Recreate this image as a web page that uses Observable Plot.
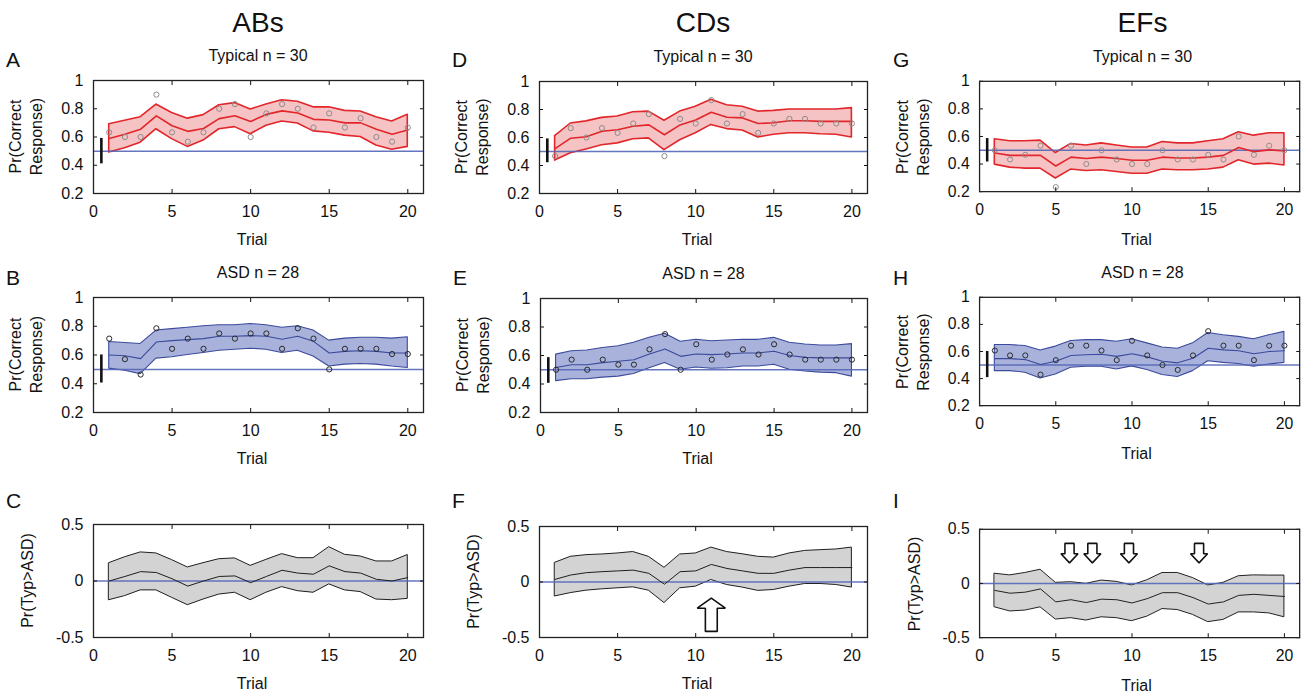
<!DOCTYPE html>
<html><head><meta charset="utf-8">
<script src="https://cdn.jsdelivr.net/npm/d3@7"></script>
<script src="https://cdn.jsdelivr.net/npm/@observablehq/plot@0.6"></script>
<style>
body{margin:0;background:#fff;}
#fig{position:relative;width:1311px;height:694px;font-family:"Liberation Sans",Arial,sans-serif;color:#111;overflow:hidden;background:#fff}
.pw{position:absolute}
#ov{position:absolute;left:0;top:0;pointer-events:none}
</style></head><body><div id="fig"></div>
<script>
// ---------- data ----------
const trials = [1,2,3,4,5,6,7,8,9,10,11,12,13,14,15,16,17,18,19,20];
const xTicks = [0,5,10,15,20];
const prTicks = [0.2,0.4,0.6,0.8,1];
const diffTicks = [-0.5,0,0.5];
const columnTitles = ["ABs","CDs","EFs"];
const panelLetters = ["A","D","G","B","E","H","C","F","I"];
const rowSubtitles = ["Typical n = 30","ASD n = 28",null];

const abTypMean = [0.59,0.62,0.655,0.75,0.68,0.64,0.66,0.73,0.75,0.71,0.76,0.785,0.77,0.725,0.72,0.70,0.70,0.655,0.62,0.65];
const abTypHi   = [0.69,0.715,0.74,0.83,0.77,0.73,0.755,0.825,0.84,0.795,0.83,0.86,0.85,0.81,0.81,0.785,0.78,0.74,0.71,0.757];
const abTypLo   = [0.49,0.52,0.56,0.655,0.585,0.53,0.575,0.655,0.67,0.62,0.68,0.71,0.695,0.64,0.63,0.61,0.60,0.54,0.51,0.53];
const abTypObs  = [0.633,0.6,0.6,0.9,0.633,0.567,0.633,0.8,0.833,0.6,0.767,0.833,0.8,0.667,0.767,0.667,0.733,0.6,0.567,0.667];

const cdTypMean = [0.52,0.595,0.605,0.645,0.655,0.68,0.69,0.62,0.69,0.725,0.78,0.745,0.74,0.70,0.705,0.72,0.72,0.715,0.715,0.715];
const cdTypHi   = [0.61,0.70,0.715,0.74,0.75,0.78,0.785,0.72,0.785,0.82,0.87,0.83,0.82,0.785,0.79,0.80,0.80,0.80,0.80,0.81];
const cdTypLo   = [0.435,0.487,0.515,0.545,0.558,0.587,0.594,0.51,0.58,0.63,0.69,0.66,0.65,0.60,0.62,0.63,0.63,0.623,0.62,0.60];
const cdTypObs  = [0.467,0.667,0.6,0.667,0.633,0.7,0.767,0.467,0.733,0.7,0.867,0.7,0.767,0.633,0.7,0.733,0.733,0.7,0.7,0.7];

const efTypMean = [0.48,0.463,0.463,0.463,0.386,0.45,0.44,0.45,0.44,0.427,0.427,0.45,0.444,0.444,0.45,0.463,0.52,0.49,0.503,0.494];
const efTypHi   = [0.58,0.565,0.565,0.57,0.48,0.546,0.535,0.55,0.535,0.52,0.52,0.56,0.55,0.55,0.565,0.58,0.63,0.606,0.623,0.623];
const efTypLo   = [0.396,0.374,0.367,0.367,0.295,0.36,0.35,0.355,0.343,0.33,0.33,0.36,0.355,0.355,0.36,0.374,0.427,0.396,0.403,0.39];
const efTypObs  = [0.5,0.433,0.467,0.533,0.233,0.533,0.4,0.5,0.433,0.4,0.4,0.5,0.433,0.433,0.467,0.433,0.6,0.467,0.533,0.5];

const abAsdMean = [0.60,0.595,0.575,0.69,0.70,0.707,0.714,0.73,0.73,0.735,0.73,0.71,0.73,0.695,0.614,0.625,0.63,0.625,0.614,0.614];
const abAsdHi   = [0.69,0.684,0.677,0.77,0.78,0.79,0.80,0.807,0.807,0.816,0.807,0.79,0.80,0.77,0.70,0.714,0.72,0.72,0.714,0.723];
const abAsdLo   = [0.505,0.49,0.467,0.575,0.584,0.60,0.614,0.63,0.637,0.644,0.637,0.614,0.63,0.59,0.52,0.533,0.537,0.533,0.52,0.51];
const abAsdObs  = [0.714,0.571,0.464,0.786,0.643,0.714,0.643,0.75,0.714,0.75,0.75,0.643,0.786,0.714,0.5,0.643,0.643,0.643,0.607,0.607];

const cdAsdMean = [0.516,0.535,0.535,0.55,0.56,0.57,0.61,0.646,0.594,0.61,0.606,0.61,0.618,0.618,0.63,0.60,0.587,0.583,0.583,0.583];
const cdAsdHi   = [0.606,0.63,0.635,0.653,0.665,0.69,0.724,0.753,0.696,0.71,0.70,0.705,0.71,0.71,0.724,0.69,0.677,0.67,0.67,0.68];
const cdAsdLo   = [0.42,0.433,0.433,0.445,0.452,0.47,0.51,0.547,0.50,0.516,0.507,0.51,0.523,0.523,0.535,0.50,0.488,0.48,0.476,0.452];
const cdAsdObs  = [0.5,0.571,0.5,0.571,0.536,0.536,0.643,0.75,0.5,0.679,0.571,0.607,0.643,0.607,0.679,0.607,0.571,0.571,0.571,0.571];

const efAsdMean = [0.547,0.547,0.54,0.504,0.528,0.57,0.576,0.58,0.564,0.583,0.56,0.528,0.516,0.55,0.624,0.612,0.605,0.583,0.60,0.605];
const efAsdHi   = [0.648,0.648,0.64,0.607,0.636,0.677,0.684,0.684,0.672,0.69,0.66,0.63,0.62,0.66,0.737,0.72,0.708,0.69,0.72,0.745];
const efAsdLo   = [0.455,0.455,0.443,0.40,0.43,0.48,0.487,0.487,0.467,0.49,0.463,0.426,0.412,0.455,0.528,0.516,0.508,0.487,0.504,0.516];
const efAsdObs  = [0.607,0.571,0.571,0.429,0.536,0.643,0.643,0.607,0.536,0.679,0.571,0.5,0.464,0.571,0.75,0.643,0.643,0.536,0.643,0.643];

const abDiffMean = [0,0.04,0.083,0.075,0.02,-0.045,0,0.04,0.045,-0.015,0.04,0.095,0.07,0.06,0.134,0.083,0.07,0.015,0,0.03];
const abDiffHi   = [0.158,0.21,0.253,0.244,0.185,0.12,0.158,0.193,0.2,0.134,0.187,0.238,0.202,0.202,0.30,0.232,0.217,0.173,0.173,0.23];
const abDiffLo   = [-0.17,-0.134,-0.083,-0.083,-0.149,-0.214,-0.164,-0.12,-0.104,-0.17,-0.104,-0.054,-0.09,-0.104,-0.03,-0.083,-0.098,-0.164,-0.17,-0.158];

const cdDiffMean = [0.024,0.063,0.084,0.093,0.1,0.107,0.078,-0.02,0.093,0.1,0.158,0.122,0.1,0.078,0.078,0.107,0.13,0.13,0.13,0.13];
const cdDiffHi   = [0.173,0.227,0.242,0.248,0.257,0.27,0.227,0.128,0.248,0.257,0.31,0.27,0.25,0.227,0.22,0.257,0.28,0.287,0.293,0.31];
const cdDiffLo   = [-0.13,-0.1,-0.078,-0.066,-0.057,-0.048,-0.078,-0.19,-0.057,-0.042,0.018,-0.027,-0.05,-0.08,-0.072,-0.042,-0.018,-0.018,-0.027,-0.05];

const efDiffMean = [-0.064,-0.09,-0.08,-0.05,-0.17,-0.15,-0.176,-0.145,-0.15,-0.18,-0.14,-0.085,-0.085,-0.13,-0.19,-0.17,-0.11,-0.10,-0.11,-0.12];
const efDiffHi   = [0.09,0.075,0.097,0.127,0.006,0.012,-0.003,0.027,0.015,-0.018,0.03,0.097,0.097,0.05,-0.018,0.006,0.067,0.075,0.073,0.073];
const efDiffLo   = [-0.22,-0.258,-0.25,-0.22,-0.333,-0.32,-0.342,-0.312,-0.32,-0.348,-0.306,-0.236,-0.245,-0.29,-0.357,-0.336,-0.267,-0.267,-0.276,-0.312];

// prior interval bars drawn at trial 0.5 (A, D, G, B, E, H)
const priorX  = 0.5;
const priorLo = [0.41,0.42,0.415,0.405,0.405,0.407];
const priorHi = [0.59,0.59,0.585,0.60,0.585,0.60];

// significance arrows: trial positions and vertical extents
const cdArrowX = [11];
const cdArrowY = {tail: -0.445, base: -0.236, tip: -0.146, shaft: 0.38, head: 0.9};
const efArrowX = [5.9, 7.4, 9.8, 14.4];
const efArrowY = {tail: 0.37, base: 0.275, tip: 0.19, shaft: 0.3, head: 0.56};

// ---------- layout ----------
const frames = [
  {L:93, T:80, W:330, H:113}, {L:539, T:81, W:328, H:112}, {L:980, T:81, W:325, H:112},
  {L:93, T:297, W:330, H:115}, {L:540, T:298, W:327, H:114}, {L:980, T:297, W:325, H:110},
  {L:93, T:524, W:330, H:113}, {L:539, T:526, W:328, H:111}, {L:980, T:529, W:325, H:110}
];
const letterBaseline = [67, 285, 508];

const typStyle  = {fill:"#f5c3c3", line:"#e2262b", lw:1.6, dot:"#8c8c8c"};
const asdStyle  = {fill:"#a8b2db", line:"#3b4a9c", lw:1.1, dot:"#2a2a2a"};
const diffStyle = {fill:"#d3d3d3", line:"#1e1e1e", lw:1.0};
const refColor = "#5466b8";

const rows = (m, l, h, o) => trials.map((t, i) => ({t, mean: m[i], lo: l[i], hi: h[i], obs: o ? o[i] : null}));

const panels = [
  {data: rows(abTypMean, abTypLo, abTypHi, abTypObs), st: typStyle, kind: "pr", prior: 0},
  {data: rows(cdTypMean, cdTypLo, cdTypHi, cdTypObs), st: typStyle, kind: "pr", prior: 1},
  {data: rows(efTypMean, efTypLo, efTypHi, efTypObs), st: typStyle, kind: "pr", prior: 2},
  {data: rows(abAsdMean, abAsdLo, abAsdHi, abAsdObs), st: asdStyle, kind: "pr", prior: 3},
  {data: rows(cdAsdMean, cdAsdLo, cdAsdHi, cdAsdObs), st: asdStyle, kind: "pr", prior: 4},
  {data: rows(efAsdMean, efAsdLo, efAsdHi, efAsdObs), st: asdStyle, kind: "pr", prior: 5},
  {data: rows(abDiffMean, abDiffLo, abDiffHi), st: diffStyle, kind: "diff"},
  {data: rows(cdDiffMean, cdDiffLo, cdDiffHi), st: diffStyle, kind: "diff", arrows: cdArrowX, ay: cdArrowY},
  {data: rows(efDiffMean, efDiffLo, efDiffHi), st: diffStyle, kind: "diff", arrows: efArrowX, ay: efArrowY}
];

function arrowPolys(xs, a) {
  const pts = [];
  xs.forEach((x, k) => {
    [[x - a.shaft, a.tail], [x + a.shaft, a.tail], [x + a.shaft, a.base], [x + a.head, a.base],
     [x, a.tip], [x - a.head, a.base], [x - a.shaft, a.base]].forEach(([px, py]) => pts.push({id: k, x: px, y: py}));
  });
  return pts;
}

const fig = document.getElementById("fig");
const ML = 62, MR = 12, MT = 12, MB = 36;

panels.forEach((p, i) => {
  const f = frames[i];
  const st = p.st;
  const yTicks = p.kind === "pr" ? prTicks : diffTicks;
  const yDom = p.kind === "pr" ? [0.2, 1] : [-0.5, 0.5];
  const ref = p.kind === "pr" ? 0.5 : 0;
  const marks = [
    Plot.areaY(p.data, {x: "t", y1: "lo", y2: "hi", fill: st.fill, stroke: st.line, strokeWidth: st.lw}),
    Plot.ruleY([ref], {stroke: refColor, strokeWidth: 1.5, strokeOpacity: 0.9}),
    Plot.lineY(p.data, {x: "t", y: "mean", stroke: st.line, strokeWidth: st.lw})
  ];
  if (p.kind === "pr") {
    marks.push(Plot.dot(p.data, {x: "t", y: "obs", r: 2.6, stroke: st.dot, strokeWidth: 1, fill: "none"}));
    marks.push(Plot.ruleX([{x: priorX, lo: priorLo[p.prior], hi: priorHi[p.prior]}], {x: "x", y1: "lo", y2: "hi", stroke: "#111", strokeWidth: 2.6}));
  }
  if (p.arrows) {
    marks.push(Plot.line(arrowPolys(p.arrows, p.ay), {x: "x", y: "y", z: "id", curve: "linear-closed", fill: "white", stroke: "#111", strokeWidth: 1.6, strokeLinejoin: "miter"}));
  }
  marks.push(
    Plot.axisX({ticks: xTicks, tickSize: 0, tickPadding: 12, label: null}),
    Plot.axisX({ticks: xTicks, tickSize: -4, fill: "none", label: null}),
    Plot.axisX({ticks: xTicks, anchor: "top", tickSize: -4, fill: "none", label: null}),
    Plot.axisY({ticks: yTicks, tickSize: 0, tickPadding: 10, label: null, tickFormat: d => String(d)}),
    Plot.axisY({ticks: yTicks, tickSize: -4, fill: "none", label: null}),
    Plot.axisY({ticks: yTicks, anchor: "right", tickSize: -4, fill: "none", label: null}),
    Plot.frame({stroke: "#222", strokeWidth: 1.3})
  );
  const svg = Plot.plot({
    width: f.W + ML + MR, height: f.H + MT + MB,
    marginLeft: ML, marginRight: MR, marginTop: MT, marginBottom: MB,
    x: {domain: [0, 21]}, y: {domain: yDom},
    style: {fontSize: "16px", fontFamily: "'Liberation Sans', Arial, sans-serif", color: "#111", background: "transparent", overflow: "visible"},
    marks
  });
  const wrap = document.createElement("div");
  wrap.className = "pw";
  wrap.style.left = (f.L - ML) + "px";
  wrap.style.top = (f.T - MT) + "px";
  wrap.appendChild(svg);
  fig.appendChild(wrap);
});

// ---------- text overlay ----------
const ov = d3.select(fig).append("svg").attr("id", "ov").attr("width", 1311).attr("height", 694)
  .style("font-family", "'Liberation Sans', Arial, sans-serif").attr("fill", "#111");

columnTitles.forEach((t, c) => {
  const f = frames[c];
  ov.append("text").attr("x", f.L + f.W / 2).attr("y", 32).attr("text-anchor", "middle").attr("font-size", 28).text(t);
});
frames.forEach((f, i) => {
  const r = Math.floor(i / 3);
  ov.append("text").attr("x", f.L - 87).attr("y", letterBaseline[r]).attr("font-size", 21).text(panelLetters[i]);
  if (rowSubtitles[r]) ov.append("text").attr("x", f.L + f.W / 2).attr("y", f.T - 19).attr("text-anchor", "middle").attr("font-size", 16).text(rowSubtitles[r]);
  ov.append("text").attr("x", f.L + f.W / 2 - 6).attr("y", f.T + f.H + 52).attr("text-anchor", "middle").attr("font-size", 16).text("Trial");
  const cy = f.T + f.H / 2;
  if (r < 2) {
    ov.append("text").attr("transform", `translate(${f.L - 72},${cy}) rotate(-90)`).attr("text-anchor", "middle").attr("font-size", 16).text("Pr(Correct");
    ov.append("text").attr("transform", `translate(${f.L - 51},${cy}) rotate(-90)`).attr("text-anchor", "middle").attr("font-size", 16).text("Response)");
  } else {
    ov.append("text").attr("transform", `translate(${f.L - 60},${cy}) rotate(-90)`).attr("text-anchor", "middle").attr("font-size", 16).text("Pr(Typ>ASD)");
  }
});
</script></body></html>
